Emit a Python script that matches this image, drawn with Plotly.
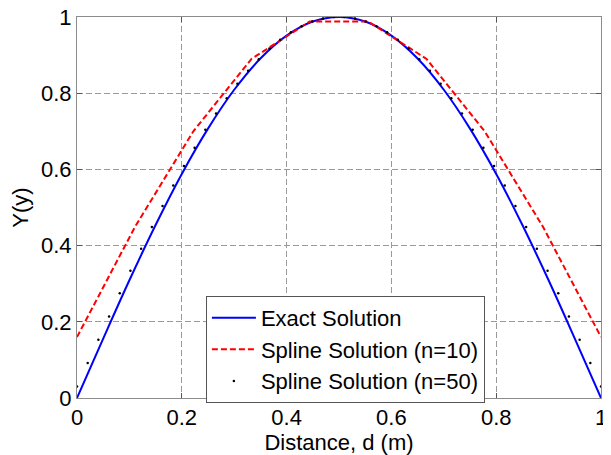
import plotly.graph_objects as go

# Exact solution
x_exact = [0.00, 0.05, 0.10, 0.15, 0.20, 0.25, 0.30, 0.35, 0.40, 0.45, 0.50,
           0.55, 0.60, 0.65, 0.70, 0.75, 0.80, 0.85, 0.90, 0.95, 1.00]
y_exact = [0.000, 0.156, 0.309, 0.454, 0.588, 0.707, 0.809, 0.891, 0.951, 0.988, 1.000,
           0.988, 0.951, 0.891, 0.809, 0.707, 0.588, 0.454, 0.309, 0.156, 0.000]

# Spline solution n=10
x_s10 = [0.0, 0.111, 0.222, 0.333, 0.444, 0.556, 0.667, 0.778, 0.889, 1.0]
y_s10 = [0.160, 0.450, 0.700, 0.890, 0.988, 0.988, 0.890, 0.700, 0.450, 0.160]

# Spline solution n=50
x_s50 = [0.0000, 0.0204, 0.0408, 0.0612, 0.0816, 0.1020, 0.1224, 0.1429, 0.1633, 0.1837,
         0.2041, 0.2245, 0.2449, 0.2653, 0.2857, 0.3061, 0.3265, 0.3469, 0.3673, 0.3878,
         0.4082, 0.4286, 0.4490, 0.4694, 0.4898, 0.5102, 0.5306, 0.5510, 0.5714, 0.5918,
         0.6122, 0.6327, 0.6531, 0.6735, 0.6939, 0.7143, 0.7347, 0.7551, 0.7755, 0.7959,
         0.8163, 0.8367, 0.8571, 0.8776, 0.8980, 0.9184, 0.9388, 0.9592, 0.9796, 1.0000]
y_s50 = [0.030, 0.092, 0.153, 0.214, 0.275, 0.334, 0.392, 0.449, 0.504, 0.558,
         0.609, 0.657, 0.704, 0.747, 0.787, 0.825, 0.859, 0.889, 0.917, 0.940,
         0.960, 0.976, 0.988, 0.996, 1.000, 1.000, 0.996, 0.988, 0.976, 0.960,
         0.940, 0.917, 0.889, 0.859, 0.825, 0.787, 0.747, 0.704, 0.657, 0.609,
         0.558, 0.504, 0.449, 0.392, 0.334, 0.275, 0.214, 0.153, 0.092, 0.030]

tick_vals = [0, 0.2, 0.4, 0.6, 0.8, 1]
tick_text = ["0", "0.2", "0.4", "0.6", "0.8", "1"]

FONT = "Liberation Sans, Arial, sans-serif"
FS = 22

fig = go.Figure()
fig.add_trace(go.Scatter(x=x_exact, y=y_exact, mode="lines", name="Exact Solution",
                         line=dict(color="#0000ff", width=2, shape="spline"),
                         legendgroup="a"))
fig.add_trace(go.Scatter(x=x_s10, y=y_s10, mode="lines", name="Spline Solution (n=10)",
                         line=dict(color="#ff0000", width=2, dash="6px,3px"),
                         legendgroup="b"))
fig.add_trace(go.Scatter(x=x_s50, y=y_s50, mode="markers", name="Spline Solution (n=50)",
                         marker=dict(color="#000000", size=2.5),
                         legendgroup="c"))

axis_common = dict(
    range=[0, 1], tickvals=tick_vals, ticktext=tick_text, automargin=False,
    ticklabeloverflow="allow",
    showgrid=True, gridcolor="#9a9a9a", griddash="6px,3px", gridwidth=1,
    zeroline=False, showline=True, linecolor="#8c8c8c", linewidth=1,
    mirror="ticks", ticks="inside", ticklen=5, tickcolor="#555555",
    tickfont=dict(family=FONT, size=FS, color="#000000"),
)

# page body has an 8px default margin; figure is sized/offset to compensate
fig.update_layout(
    width=603, height=447,
    margin=dict(l=69, r=10, t=9, b=57),
    paper_bgcolor="white", plot_bgcolor="white",
    font=dict(family=FONT, size=FS, color="#000000"),
    xaxis=dict(**axis_common, title=dict(text="Distance, d (m)", standoff=2,
                                         font=dict(family=FONT, size=FS))),
    yaxis=dict(**axis_common, title=dict(text="Y(y)", standoff=8,
                                         font=dict(family=FONT, size=FS))),
    legend=dict(x=0.246, y=0.268, xanchor="left", yanchor="top",
                bgcolor="white", bordercolor="#555555", borderwidth=1,
                font=dict(family=FONT, size=FS), tracegroupgap=0,
                itemwidth=44),
    showlegend=True,
)

fig.write_html("out.html")
